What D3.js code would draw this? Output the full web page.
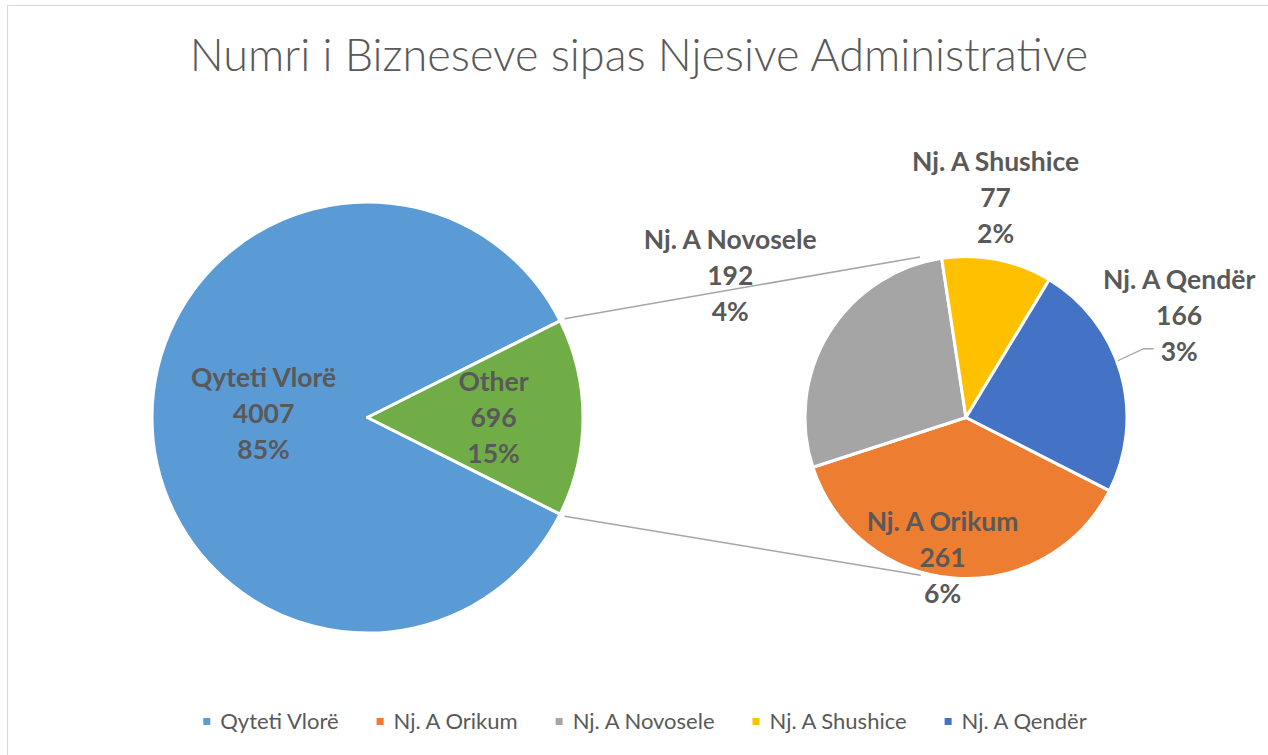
<!DOCTYPE html>
<html>
<head>
<meta charset="utf-8">
<script src="https://cdn.jsdelivr.net/npm/d3@7"></script>
<style>
  html, body { margin: 0; padding: 0; background: #fff; }
  svg { display: block; }
  text { font-family: Lato, "Open Sans", sans-serif; }
</style>
</head>
<body>
<svg id="chart" width="1268" height="755"></svg>
<script>
// ---- Data ----
const titleText = "Numri i Bizneseve sipas Njesive Administrative";
const legendCategories = ["Qyteti Vlorë", "Nj. A Orikum", "Nj. A Novosele", "Nj. A Shushice", "Nj. A Qendër"];
const mainCategories = ["Qyteti Vlorë", "Other"];
const mainValues = [4007, 696];
const mainPercents = ["85%", "15%"];
const secondCategories = ["Nj. A Orikum", "Nj. A Novosele", "Nj. A Shushice", "Nj. A Qendër"];
const secondValues = [261, 192, 77, 166];
const secondPercents = ["6%", "4%", "2%", "3%"];

// ---- Styles / layout ----
const colorScale = d3.scaleOrdinal()
  .domain(["Qyteti Vlorë", "Other", "Nj. A Orikum", "Nj. A Novosele", "Nj. A Shushice", "Nj. A Qendër"])
  .range(["#5B9BD5", "#70AD47", "#ED7D31", "#A5A5A5", "#FFC000", "#4472C4"]);
const textColor = "#595959";
const W = 1268, H = 755;
const mainC = { x: 367.5, y: 417.5, r: 215.5 };
const secC = { x: 966, y: 417.5, r: 161 };
const secStartDeg = 117;           // rotation of the secondary pie
const labelFont = 26.5, lineGap = 36;
// label anchor (polar: angle degrees clockwise from top, radius px) relative to each pie centre
const mainLabelPolar = { "Qyteti Vlorë": [272, 104], "Other": [90, 126] };
const secLabelPolar = {
  "Nj. A Orikum": [189.5, 142],
  "Nj. A Novosele": [301, 275],
  "Nj. A Shushice": [7.7, 221],
  "Nj. A Qendër": [64.6, 236]
};

const svg = d3.select("#chart");
const rad = d => d * Math.PI / 180;
const polar = (c, deg, r) => [c.x + r * Math.sin(rad(deg)), c.y - r * Math.cos(rad(deg))];

svg.append("rect").attr("width", W).attr("height", H).attr("fill", "#fff");
// chart border (top & left visible)
svg.append("path")
  .attr("d", `M7.5,${H} L7.5,5.5 L${W},5.5`)
  .attr("fill", "none").attr("stroke", "#D9D9D9").attr("stroke-width", 1.2);

// Title
svg.append("text")
  .attr("x", 639).attr("y", 71)
  .attr("text-anchor", "middle")
  .attr("font-size", 45).attr("font-weight", 300)
  .attr("fill", textColor)
  .text(titleText);

// ---- Main pie ----
const mainTotal = d3.sum(mainValues);
const otherAngle = 2 * Math.PI * mainValues[1] / mainTotal;
const mainStart = Math.PI / 2 - (2 * Math.PI - otherAngle) - otherAngle / 2;
const mainPie = d3.pie().sort(null).value(d => d.v)
  .startAngle(mainStart).endAngle(mainStart + 2 * Math.PI);
const mainData = mainPie(mainCategories.map((c, i) => ({ c, v: mainValues[i], p: mainPercents[i] })));
const mainArc = d3.arc().innerRadius(0).outerRadius(mainC.r);

const gMain = svg.append("g").attr("transform", `translate(${mainC.x},${mainC.y})`);
gMain.selectAll("path").data(mainData).join("path")
  .attr("d", mainArc)
  .attr("fill", d => colorScale(d.data.c))
  .attr("stroke", "#fff").attr("stroke-width", 3).attr("stroke-linejoin", "round");

// ---- Secondary pie ----
const secPie = d3.pie().sort(null).value(d => d.v)
  .startAngle(rad(secStartDeg)).endAngle(rad(secStartDeg) + 2 * Math.PI);
const secData = secPie(secondCategories.map((c, i) => ({ c, v: secondValues[i], p: secondPercents[i] })));
const secArc = d3.arc().innerRadius(0).outerRadius(secC.r);

// connector lines (from the edges of "Other" slice to the secondary pie)
const otherSlice = mainData[1];
const connStartA = polar(mainC, otherSlice.startAngle * 180 / Math.PI, mainC.r + 5);
const connStartB = polar(mainC, otherSlice.endAngle * 180 / Math.PI, mainC.r + 5);
const connEndA = polar(secC, -16, secC.r + 6);
const connEndB = polar(secC, 196, secC.r + 3);
svg.append("line").attr("x1", connStartA[0]).attr("y1", connStartA[1])
  .attr("x2", connEndA[0]).attr("y2", connEndA[1])
  .attr("stroke", "#A6A6A6").attr("stroke-width", 1.5);
svg.append("line").attr("x1", connStartB[0]).attr("y1", connStartB[1])
  .attr("x2", connEndB[0]).attr("y2", connEndB[1])
  .attr("stroke", "#A6A6A6").attr("stroke-width", 1.5);

const gSec = svg.append("g").attr("transform", `translate(${secC.x},${secC.y})`);
gSec.selectAll("path").data(secData).join("path")
  .attr("d", secArc)
  .attr("fill", d => colorScale(d.data.c))
  .attr("stroke", "#fff").attr("stroke-width", 3).attr("stroke-linejoin", "round");

// leader line for Qendër label
const qEdge = polar(secC, 69.5, secC.r + 1);
svg.append("polyline")
  .attr("points", `${qEdge[0]},${qEdge[1]} ${qEdge[0] + 26},${qEdge[1] - 12} ${qEdge[0] + 36},${qEdge[1] - 12}`)
  .attr("fill", "none").attr("stroke", "#A6A6A6").attr("stroke-width", 1.3);

// ---- Labels ----
function drawLabel(pos, lines) {
  const t = svg.append("text")
    .attr("text-anchor", "middle")
    .attr("font-size", labelFont).attr("font-weight", 700)
    .attr("fill", textColor);
  // pos is the centre of the middle line
  lines.forEach((s, i) => {
    t.append("tspan").attr("x", pos[0]).attr("y", pos[1] + 9 + (i - 1) * lineGap).text(s);
  });
}
mainData.forEach(d => {
  const [a, r] = mainLabelPolar[d.data.c];
  drawLabel(polar(mainC, a, r), [d.data.c, String(d.data.v), d.data.p]);
});
secData.forEach(d => {
  const [a, r] = secLabelPolar[d.data.c];
  drawLabel(polar(secC, a, r), [d.data.c, String(d.data.v), d.data.p]);
});

// ---- Legend ----
const legendFont = 22, sq = 7, sqGap = 10, itemGap = 38, legendY = 721.5;
const gLeg = svg.append("g");
const items = legendCategories.map(c => {
  const g = gLeg.append("g");
  g.append("rect").attr("width", sq).attr("height", sq).attr("y", legendY - sq / 2)
    .attr("fill", colorScale(c));
  const t = g.append("text").attr("x", sq + sqGap).attr("y", legendY + 7.5)
    .attr("font-size", legendFont).attr("fill", textColor).text(c);
  return { g, w: sq + sqGap + t.node().getComputedTextLength() };
});
const totalW = d3.sum(items, d => d.w) + itemGap * (items.length - 1);
let lx = 645 - totalW / 2;
items.forEach(it => { it.g.attr("transform", `translate(${lx},0)`); lx += it.w + itemGap; });
</script>
</body>
</html>
